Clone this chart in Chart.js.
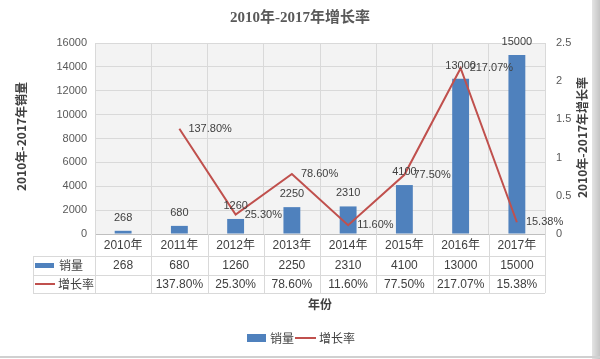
<!DOCTYPE html>
<html>
<head>
<meta charset="utf-8">
<script src="https://cdn.jsdelivr.net/npm/chart.js@4/dist/chart.umd.min.js"></script>
<style>
html,body{margin:0;padding:0;background:#fff;}
#wrap{width:600px;height:359px;position:relative;}
</style>
</head>
<body>
<div id="wrap"><canvas id="c" width="600" height="359"></canvas></div>
<script>
const chartTitle = '2010年-2017年增长率';
const leftAxisTitle = '2010年-2017年销量';
const rightAxisTitle = '2010年-2017年增长率';
const xAxisTitle = '年份';
const categories = ['2010年','2011年','2012年','2013年','2014年','2015年','2016年','2017年'];
const salesLabel = '销量';
const growthLabel = '增长率';
const sales = [268, 680, 1260, 2250, 2310, 4100, 13000, 15000];
const growth = [null, 1.378, 0.253, 0.786, 0.116, 0.775, 2.1707, 0.1538];
const salesTicks = [0, 16000, 2000];   // min, max, step
const growthTicks = [0, 2.5, 0.5];     // min, max, step

const BAR = '#4f81bd';
const LINE = '#c0504d';
const TXT = '#404040';
const TICK = '#595959';
const GRID = '#d9d9d9';
const LAT = "'Liberation Sans','Noto Sans CJK SC',sans-serif";
const CJK = "'Noto Sans CJK SC','Liberation Sans',sans-serif";
const SERIF = "'Liberation Serif','Noto Sans CJK SC',serif";

function pct(v){ return v == null ? '' : (v*100).toFixed(2) + '%'; }

const custom = {
  id: 'custom',
  beforeDraw(chart){
    const {ctx, chartArea:a} = chart;
    ctx.save();
    ctx.fillStyle = '#ffffff';
    ctx.fillRect(0,0,chart.width,chart.height);
    ctx.fillStyle = '#f3f3f3';
    ctx.fillRect(a.left, a.top, a.right-a.left, a.bottom-a.top);
    ctx.restore();
  },
  afterDatasetsDraw(chart){
    const ctx = chart.ctx;
    ctx.save();
    ctx.fillStyle = TXT;
    ctx.font = '11px ' + LAT;
    const mb = chart.getDatasetMeta(0);
    ctx.textAlign = 'center'; ctx.textBaseline = 'middle';
    mb.data.forEach((el,i)=>{
      ctx.fillText(String(sales[i]), el.x, el.y - 13);
    });
    const ml = chart.getDatasetMeta(1);
    ctx.textAlign = 'left';
    ml.data.forEach((el,i)=>{
      if (growth[i] == null) return;
      ctx.fillText(pct(growth[i]), el.x + 9, el.y);
    });
    ctx.restore();
  },
  afterDraw(chart){
    const {ctx, chartArea:a, scales} = chart;
    const x = scales.x;
    const step = x.getPixelForValue(1) - x.getPixelForValue(0);
    ctx.save();
    ctx.fillStyle = TICK;
    ctx.font = 'bold 15px ' + SERIF;
    ctx.textAlign = 'center'; ctx.textBaseline = 'middle';
    ctx.fillText(chartTitle, 300, 18);
    ctx.fillStyle = TXT;
    ctx.font = 'bold 12px ' + CJK;
    ctx.save();
    ctx.translate(21, (a.top + a.bottom)/2 - 2);
    ctx.rotate(-Math.PI/2);
    ctx.fillText(leftAxisTitle, 0, 0);
    ctx.restore();
    ctx.save();
    ctx.translate(582, (a.top + a.bottom)/2 - 1);
    ctx.rotate(-Math.PI/2);
    ctx.fillText(rightAxisTitle, 0, 0);
    ctx.restore();
    const r0 = a.bottom, r1 = 256, r2 = 275, r3 = 293;
    const tl = 33;
    ctx.strokeStyle = GRID; ctx.lineWidth = 1;
    ctx.beginPath();
    [r1, r2, r3].forEach(y=>{ ctx.moveTo(tl, y+0.5); ctx.lineTo(a.right, y+0.5); });
    ctx.moveTo(tl+0.5, r1); ctx.lineTo(tl+0.5, r3);
    for (let i=0;i<=categories.length;i++){
      const xb = Math.round(x.getPixelForValue(0) - step/2 + i*step) + 0.5;
      ctx.moveTo(xb, r0); ctx.lineTo(xb, r3);
    }
    ctx.stroke();
    ctx.fillStyle = TXT;
    ctx.textAlign = 'center'; ctx.textBaseline = 'middle';
    ctx.font = '12px ' + LAT;
    categories.forEach((c,i)=>{
      const cx = x.getPixelForValue(i);
      ctx.fillText(c, cx, 246);
      ctx.fillText(String(sales[i]), cx, 266);
      ctx.fillText(pct(growth[i]), cx, 285);
    });
    ctx.fillStyle = BAR;
    ctx.fillRect(35, 263, 19, 5);
    ctx.strokeStyle = LINE; ctx.lineWidth = 2;
    ctx.beginPath(); ctx.moveTo(35, 284); ctx.lineTo(55, 284); ctx.stroke();
    ctx.fillStyle = TXT;
    ctx.textAlign = 'left';
    ctx.font = '12px ' + CJK;
    ctx.fillText(chart.data.datasets[0].label, 59, 265);
    ctx.fillText(chart.data.datasets[1].label, 58, 284);
    ctx.textAlign = 'center';
    ctx.font = 'bold 12px ' + CJK;
    ctx.fillText(xAxisTitle, (a.left + a.right)/2, 304);
    ctx.fillStyle = BAR;
    ctx.fillRect(247, 334, 19, 8);
    ctx.strokeStyle = LINE; ctx.lineWidth = 2;
    ctx.beginPath(); ctx.moveTo(295, 338); ctx.lineTo(316, 338); ctx.stroke();
    ctx.fillStyle = TXT;
    ctx.textAlign = 'left';
    ctx.font = '12px ' + CJK;
    ctx.fillText(chart.data.datasets[0].label, 270, 338);
    ctx.fillText(chart.data.datasets[1].label, 319, 338);
    const g = ctx.createLinearGradient(592, 0, 600, 0);
    g.addColorStop(0, '#e4e4e4'); g.addColorStop(1, '#c4c4c4');
    ctx.fillStyle = g;
    ctx.fillRect(592, 0, 8, 359);
    ctx.fillStyle = '#d0d0d0';
    ctx.fillRect(0, 356, 600, 2);
    ctx.restore();
  }
};

new Chart(document.getElementById('c'), {
  data: {
    labels: categories,
    datasets: [
      { type:'bar', label: salesLabel, data: sales, backgroundColor: BAR,
        yAxisID:'y', order: 1, barPercentage: 0.3, categoryPercentage: 1 },
      { type:'line', label: growthLabel, data: growth, borderColor: LINE,
        backgroundColor: LINE, borderWidth: 2, pointRadius: 0, tension: 0,
        yAxisID:'y1', order: 0 }
    ]
  },
  options: {
    responsive: false,
    animation: false,
    events: [],
    layout: { padding: { top: 43, left: 0, right: 0, bottom: 0 } },
    plugins: { legend: { display:false }, title:{display:false}, tooltip:{enabled:false} },
    scales: {
      x: {
        grid: { color: GRID, offset: true, drawTicks: false },
        border: { color: '#bfbfbf' },
        ticks: { display: false },
        afterFit: s => { s.height = 125; }
      },
      y: {
        position: 'left',
        min: salesTicks[0], max: salesTicks[1],
        ticks: { stepSize: salesTicks[2], color: TICK, font: { size: 11, family: LAT }, padding: 8,
                 callback: v => String(v) },
        grid: { color: GRID, drawTicks: false },
        border: { color: GRID },
        afterFit: s => { s.width = 95; }
      },
      y1: {
        position: 'right',
        min: growthTicks[0], max: growthTicks[1],
        ticks: { stepSize: growthTicks[2], color: TICK, font: { size: 11, family: LAT }, padding: 11,
                 callback: v => String(v) },
        grid: { display: false, drawTicks: false },
        border: { color: GRID },
        afterFit: s => { s.width = 55; }
      }
    }
  },
  plugins: [custom]
});
</script>
</body>
</html>
